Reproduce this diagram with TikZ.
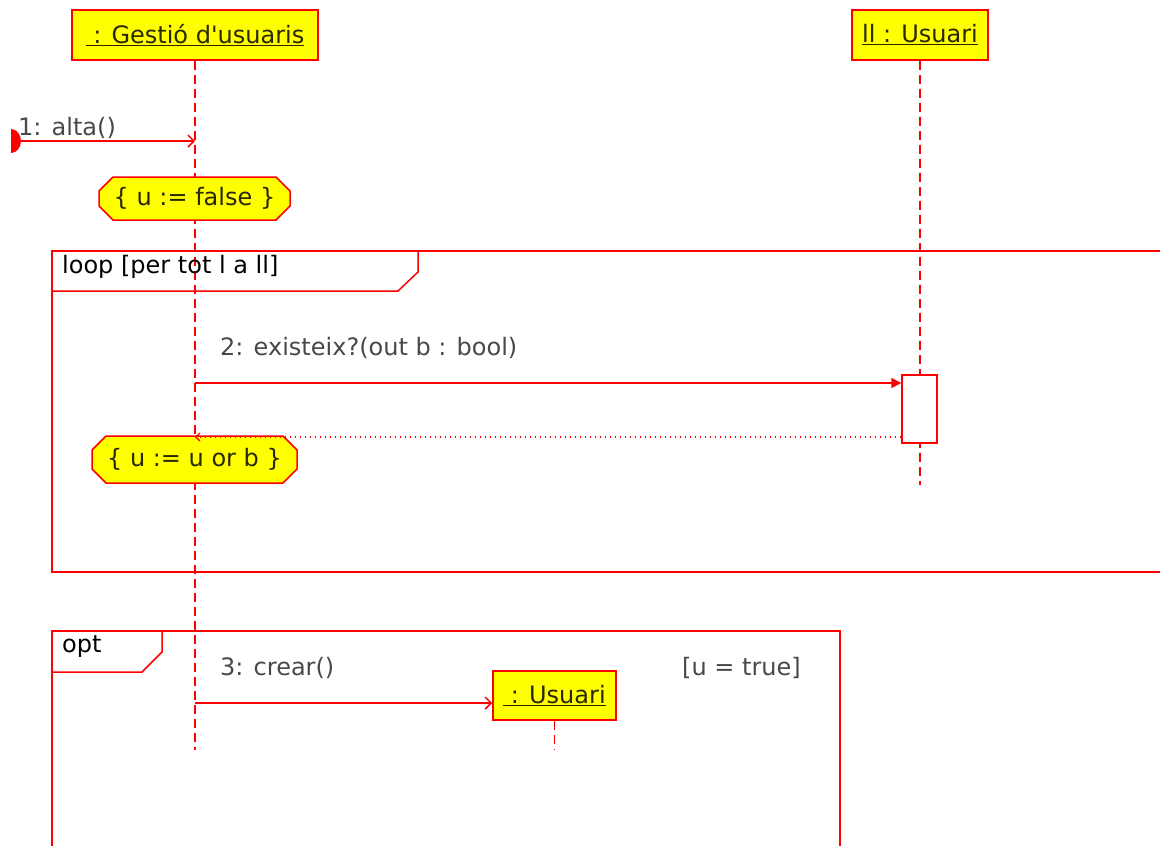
\documentclass[tikz,border=0pt]{standalone}
\usepackage{fontspec}
\setmainfont{DejaVu Sans}
\usetikzlibrary{arrows.meta,shapes.misc}
\definecolor{umlred}{RGB}{255,0,0}
\definecolor{umlyellow}{RGB}{255,255,0}
\definecolor{msggray}{RGB}{72,72,72}
\definecolor{objtext}{RGB}{40,40,0}

\tikzset{
  obj/.style={draw=umlred, fill=umlyellow, line width=1.5pt, minimum height=50pt, inner sep=0pt, text=objtext, font=\fontsize{24}{28}\selectfont},
  note/.style={draw=umlred, fill=umlyellow, line width=1.5pt, chamfered rectangle, chamfered rectangle xsep=7pt, chamfered rectangle ysep=7pt, inner sep=0pt, text=objtext, font=\fontsize{24}{28}\selectfont},
  lifeline/.style={draw=umlred, line width=1.5pt, dash pattern=on 9pt off 5pt},
  frame/.style={draw=umlred, line width=1.5pt},
  msg/.style={draw=umlred, line width=1.5pt},
  txt/.style={anchor=west, inner sep=0pt, text=msggray, font=\fontsize{24}{28}\selectfont}
}

\begin{document}
\begin{tikzpicture}[x=1pt,y=-1pt]
        \clip (0,0) rectangle (1160,846);
        % objects and lifelines
        \node[obj, minimum width=246pt](gu) at (195,35) {\underline{\ : Gestió d\textquotesingle usuaris}};
        \node[obj, minimum width=136pt](ll) at (920,35) {\underline{ll : Usuari}};
        \coordinate (gufi) at (195,750);
        \coordinate (llfi) at (920,485);
        \draw[lifeline](gu)--(gufi);
        \draw[lifeline](ll)--(llfi);

        % loop frame
        \draw[frame] (1175,251) -- (52,251) -- (52,572) -- (1175,572);
        \draw[frame] (418,251) -- (418,272) -- (398,291) -- (52,291);
        \node[txt, text=black](loop) at (62,267) {loop [per tot l a ll]};

        % opt frame
        \draw[frame] (52,860) -- (52,631) -- (840,631) -- (840,860);
        \draw[frame] (162,631) -- (162,652) -- (142,672) -- (52,672);
        \node[txt, text=black](opt) at (62,647) {opt};

        % 1: alta()
        \coordinate (m1a) at (11,141);
        \coordinate (m1b) at (195,141);
        \fill[umlred] (m1a) ++(0,-12) arc[start angle=90, end angle=-90, x radius=10pt, y radius=12pt] -- cycle;
        \draw[msg, -{Straight Barb[length=6pt,width=12pt]}](m1a)--(m1b);
        \node[txt](m1) at (18,128) {1: alta()};
        \node[note, minimum width=191pt, minimum height=43pt](ini) at (194.5,198.5) {\{ u := false \}};

        % 2: existeix?
        \node[draw=umlred, fill=white, line width=1.5pt, minimum width=35pt, minimum height=68pt, inner sep=0pt](act) at (919.5,409) {};
        \coordinate (m2a) at (195,383);
        \coordinate (r2) at (195,437);
        \draw[msg, -{Triangle[length=10pt,width=10pt]}](m2a)--(act.west |- m2a);
        \node[txt](m2) at (220,348) {2: existeix?(out b : bool)};
        \node[note, minimum width=205pt, minimum height=47pt](acc) at (194.5,459.5) {\{ u := u or b \}};
        \draw[msg, line width=1.3pt, dash pattern=on 1.5pt off 3.5pt, -{Straight Barb[length=4pt,width=8pt]}](act.west |- r2)--(r2);

        % 3: crear()
        \node[obj, minimum width=123pt, minimum height=49pt](nou) at (554.5,695.5) {\underline{\ : Usuari}};
        \coordinate (noufi) at (554.5,750);
        \draw[lifeline](nou)--(noufi);
        \coordinate (m3a) at (195,703);
        \draw[msg, -{Straight Barb[length=6pt,width=12pt]}](m3a)--(nou.west |- m3a);
        \node[txt](m3) at (220,668) {3: crear()};
        \node[txt](cond) at (682,668) {[u = true]};
\end{tikzpicture}
\end{document}
